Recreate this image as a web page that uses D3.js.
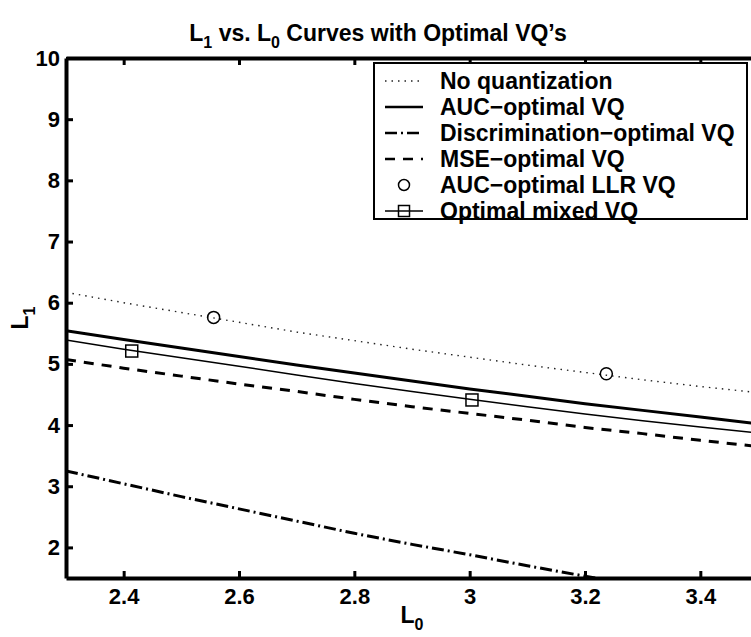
<!DOCTYPE html>
<html>
<head>
<meta charset="utf-8">
<script src="https://cdn.jsdelivr.net/npm/d3@7"></script>
<style>
  html, body { margin: 0; padding: 0; background: #fff; }
  text { font-family: 'Liberation Sans', Arial, Helvetica, sans-serif; font-weight: bold; fill: #000; }
</style>
</head>
<body>
<div id="chart"></div>
<script>
// Data.
const l0 = [2.3, 2.4, 2.5, 2.6, 2.7, 2.8, 2.9, 3.0, 3.1, 3.2, 3.3, 3.4, 3.5];
const noQuantization = [6.17, 6.00, 5.84, 5.68, 5.52, 5.38, 5.24, 5.11, 4.98, 4.86, 4.74, 4.63, 4.53];
const aucOptimal = [5.54, 5.40, 5.26, 5.12, 4.98, 4.85, 4.72, 4.59, 4.47, 4.35, 4.24, 4.13, 4.02];
const discOptimal = [3.25, 3.04, 2.83, 2.63, 2.43, 2.23, 2.05, 1.88, 1.70, 1.53, 1.37, 1.22, 1.08];
const mseOptimal = [5.07, 4.93, 4.80, 4.67, 4.55, 4.42, 4.30, 4.19, 4.08, 3.96, 3.86, 3.75, 3.65];
const mixedOptimal = [5.39, 5.24, 5.10, 4.96, 4.82, 4.68, 4.55, 4.42, 4.30, 4.18, 4.07, 3.97, 3.87];
const llrX = [2.556, 3.237];
const llrY = [5.76, 4.84];
const mixedMarkX = [2.414, 3.004];
const mixedMarkY = [5.21, 4.41];
const xTicks = [2.4, 2.6, 2.8, 3.0, 3.2, 3.4];
const yTicks = [2, 3, 4, 5, 6, 7, 8, 9, 10];
const legendLabels = ['No quantization', 'AUC\u2212optimal VQ', 'Discrimination\u2212optimal VQ',
  'MSE\u2212optimal VQ', 'AUC\u2212optimal LLR VQ', 'Optimal mixed VQ'];

const width = 751;
const height = 637;
const margin = { top: 58, right: -7, bottom: 59, left: 66 };

const svg = d3.select('#chart')
  .append('svg')
  .attr('width', width)
  .attr('height', height);

const x = d3.scaleLinear().domain([2.3, 3.5]).range([margin.left, width - margin.right]);
const y = d3.scaleLinear().domain([1.5, 10]).range([height - margin.bottom, margin.top]);

svg.append('clipPath').attr('id', 'plot-clip')
  .append('rect')
  .attr('x', x(2.3)).attr('y', y(10))
  .attr('width', x(3.5) - x(2.3)).attr('height', y(1.5) - y(10));

// Series styles
const series = [
  { values: noQuantization, width: 1.4, dash: '1.5,5', color: '#222' },
  { values: aucOptimal, width: 3, dash: null, color: '#000' },
  { values: discOptimal, width: 3, dash: '12,4,2,4', color: '#000' },
  { values: mseOptimal, width: 3, dash: '10,8', color: '#000' },
  { values: mixedOptimal, width: 1.5, dash: null, color: '#000' }
];

const line = d3.line()
  .x((d, i) => x(l0[i]))
  .y(d => y(d));

const plot = svg.append('g').attr('clip-path', 'url(#plot-clip)');

plot.selectAll('path.series')
  .data(series)
  .join('path')
  .attr('class', 'series')
  .attr('fill', 'none')
  .attr('stroke', d => d.color)
  .attr('stroke-width', d => d.width)
  .attr('stroke-dasharray', d => d.dash)
  .attr('d', d => line(d.values));

plot.selectAll('circle.llr')
  .data(llrX)
  .join('circle')
  .attr('class', 'llr')
  .attr('cx', d => x(d))
  .attr('cy', (d, i) => y(llrY[i]))
  .attr('r', 6)
  .attr('fill', 'none')
  .attr('stroke', '#000')
  .attr('stroke-width', 1.5);

plot.selectAll('rect.mixed')
  .data(mixedMarkX)
  .join('rect')
  .attr('class', 'mixed')
  .attr('x', d => x(d) - 6)
  .attr('y', (d, i) => y(mixedMarkY[i]) - 6)
  .attr('width', 12)
  .attr('height', 12)
  .attr('fill', 'none')
  .attr('stroke', '#000')
  .attr('stroke-width', 1.5);

// Axes (ticks point inward)
const fmtX = d => (d === 3 ? '3' : d3.format('.1f')(d));

const xAxis = svg.append('g')
  .attr('transform', `translate(0,${y(1.5)})`)
  .call(d3.axisBottom(x).tickValues(xTicks).tickFormat(fmtX).tickSizeInner(-7).tickSizeOuter(0).tickPadding(10));

const xAxisTop = svg.append('g')
  .attr('transform', `translate(0,${y(10)})`)
  .call(d3.axisTop(x).tickValues(xTicks).tickFormat('').tickSizeInner(-7).tickSizeOuter(0));

const yAxis = svg.append('g')
  .attr('transform', `translate(${x(2.3)},0)`)
  .call(d3.axisLeft(y).tickValues(yTicks).tickFormat(d3.format('d')).tickSizeInner(-7).tickSizeOuter(0).tickPadding(6));

const yAxisRight = svg.append('g')
  .attr('transform', `translate(${x(3.5)},0)`)
  .call(d3.axisRight(y).tickValues(yTicks).tickFormat('').tickSizeInner(-7).tickSizeOuter(0));

[xAxis, xAxisTop, yAxis, yAxisRight].forEach(g => {
  g.select('.domain').attr('stroke', '#000').attr('stroke-width', 4);
  g.selectAll('.tick line').attr('stroke', '#000').attr('stroke-width', 3);
  g.selectAll('.tick text')
    .style('font-family', "'Liberation Sans', Arial, sans-serif")
    .style('font-weight', 'bold')
    .style('font-size', '22px')
    .attr('fill', '#000');
});

// Title
const title = svg.append('text')
  .attr('x', 378)
  .attr('y', 41)
  .attr('text-anchor', 'middle')
  .style('font-size', '23px');
title.append('tspan').text('L');
title.append('tspan').attr('dy', 7).style('font-size', '16px').text('1');
title.append('tspan').attr('dy', -7).text(' vs. L');
title.append('tspan').attr('dy', 7).style('font-size', '16px').text('0');
title.append('tspan').attr('dy', -7).text(' Curves with Optimal VQ\u2019s');

// Axis labels
const xLabel = svg.append('text')
  .attr('x', x(2.9))
  .attr('y', 623)
  .attr('text-anchor', 'middle')
  .style('font-size', '23px');
xLabel.append('tspan').text('L');
xLabel.append('tspan').attr('dy', 7).style('font-size', '16px').text('0');

const yLabel = svg.append('text')
  .attr('transform', `translate(28,${y(5.75)}) rotate(-90)`)
  .attr('text-anchor', 'middle')
  .style('font-size', '23px');
yLabel.append('tspan').text('L');
yLabel.append('tspan').attr('dy', 7).style('font-size', '16px').text('1');

// Legend
const legend = svg.append('g');
legend.append('rect')
  .attr('x', 374).attr('y', 63)
  .attr('width', 373).attr('height', 156)
  .attr('fill', '#fff')
  .attr('stroke', '#000')
  .attr('stroke-width', 2);

const rowY = i => 81 + i * 26;

const legendStyles = [series[0], series[1], series[2], series[3], null, series[4]];
legend.selectAll('line.sample')
  .data(legendStyles.map((s, i) => ({ s, i })).filter(d => d.s))
  .join('line')
  .attr('class', 'sample')
  .attr('x1', 385).attr('x2', 423)
  .attr('y1', d => rowY(d.i)).attr('y2', d => rowY(d.i))
  .attr('stroke', d => d.s.color)
  .attr('stroke-width', d => Math.min(d.s.width, 2.5))
  .attr('stroke-dasharray', d => d.s.dash);

legend.append('circle')
  .attr('cx', 404).attr('cy', rowY(4)).attr('r', 5.5)
  .attr('fill', 'none').attr('stroke', '#000').attr('stroke-width', 1.5);

legend.append('rect')
  .attr('x', 398.5).attr('y', rowY(5) - 5.5).attr('width', 11).attr('height', 11)
  .attr('fill', 'none').attr('stroke', '#000').attr('stroke-width', 1.5);

legend.selectAll('text.label')
  .data(legendLabels)
  .join('text')
  .attr('class', 'label')
  .attr('x', 440)
  .attr('y', (d, i) => rowY(i))
  .attr('dy', '0.35em')
  .style('font-size', '23px')
  .text(d => d);
</script>
</body>
</html>
